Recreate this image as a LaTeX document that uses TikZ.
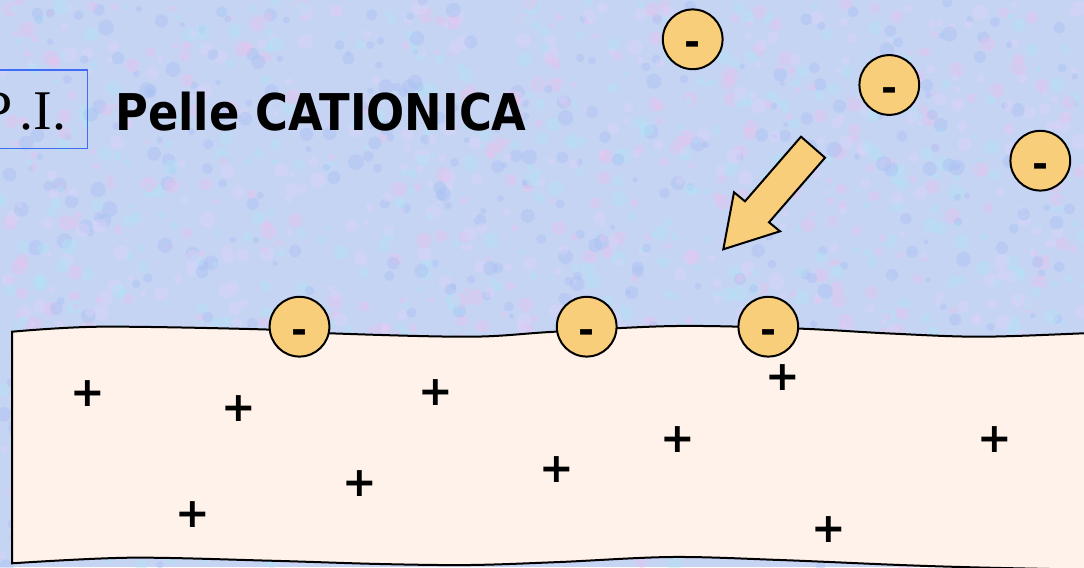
\documentclass[tikz,border=0pt]{standalone}
\usepackage{fontspec}
\newfontfamily\dvsans{DejaVu Sans}
\newfontfamily\piserif{Liberation Serif}
\definecolor{bgbase}{HTML}{C6D4F4}
\definecolor{bgA}{HTML}{E8C2EC}
\definecolor{bgB}{HTML}{B0E4F6}
\definecolor{bgC}{HTML}{A8C0F2}
\definecolor{bgD}{HTML}{DCD2F8}
\definecolor{ionfill}{HTML}{F8CE7A}
\definecolor{skin}{HTML}{FEF2EA}
\definecolor{boxblue}{HTML}{3F6CF5}
\tikzset{
  ion/.style={circle, draw=black, line width=1.5pt, fill=ionfill, minimum size=44.8pt,
    inner sep=0pt, font=\dvsans\bfseries\fontsize{29}{30}\selectfont,
    text height=24.6pt, text depth=0pt},
  pluscharge/.style={inner sep=0pt, font=\dvsans\bfseries\fontsize{31}{32}\selectfont,
    text height=22.3pt, text depth=0pt},
  membrane/.style={draw=black, line width=1.5pt, fill=skin},
  bigarrow/.style={draw=black, line width=1.5pt, fill=ionfill, line join=miter},
}
\begin{document}
\begin{tikzpicture}[x=0.75pt, y=-0.75pt]
\useasboundingbox (0,0) rectangle (1084,567);
\clip (0,0) rectangle (1084,567);
% textured background
\fill[bgbase] (0,0) rectangle (1084,567);
\pgfmathsetseed{12}
\foreach \i in {1,...,2200}{
  \pgfmathsetmacro{\bx}{rnd*1084}
  \pgfmathsetmacro{\by}{rnd*567}
  \pgfmathsetmacro{\br}{2.5+rnd*5.5}
  \pgfmathrandominteger{\bc}{1}{4}
  \ifcase\bc\or
    \fill[bgA, opacity=0.42] (\bx,\by) circle[radius=\br];
  \or
    \fill[bgB, opacity=0.42] (\bx,\by) circle[radius=\br];
  \or
    \fill[bgC, opacity=0.42] (\bx,\by) circle[radius=\br];
  \else
    \fill[bgD, opacity=0.42] (\bx,\by) circle[radius=\br];
  \fi
}
% title box and title
\draw[boxblue, line width=1pt] (-20,70) rectangle (87.3,148.7);
\node[anchor=base west, inner sep=0pt, font=\piserif\fontsize{42}{48}\selectfont] (pi) at (-19,129.5) {P\kern5.25pt.I.};
\node[anchor=base west, inner sep=0pt, font=\dvsans\bfseries\fontsize{38}{44}\selectfont] (title) at (115,130) {\scalebox{0.885}[1]{Pelle CATIONICA}};
% membrane (skin)
\draw[membrane] plot[smooth, tension=0.55] coordinates {(12,331.7) (100,326.7) (260,329.3) (330,333.3) (470,336.7) (555,331.7) (676,326) (797,328.5) (890,333.5) (980,336.7) (1084,333.3) (1110,332)}
  -- (1110,570)
  -- plot[smooth, tension=0.55] coordinates {(1100,570) (980,567.5) (900,565) (780,560) (672,557) (560,562) (470,565) (380,564) (270,560.7) (130,557.7) (12,563.3)}
  -- cycle;
% arrow
\draw[bigarrow] (801,136.7) -- (825,157.7) -- (769,222.3) -- (780,231.3) -- (723.3,249.3) -- (734,192.3) -- (745,201.3) -- cycle;
% anions
\node[ion] (a1) at (692.7,39.3) {-};
\node[ion] (a2) at (889.3,85) {-};
\node[ion] (a3) at (1040.3,160.7) {-};
\node[ion] (m1) at (299.5,326.7) {-};
\node[ion] (m2) at (586.7,326.7) {-};
\node[ion] (m3) at (768.3,326.7) {-};
% cations
\node[pluscharge] (p1) at (87.7,391.7) {+};
\node[pluscharge] (p2) at (239.3,406.7) {+};
\node[pluscharge] (p3) at (435.7,391) {+};
\node[pluscharge] (p4) at (359.5,482) {+};
\node[pluscharge] (p5) at (193.3,512.3) {+};
\node[pluscharge] (p6) at (556.7,467.3) {+};
\node[pluscharge] (p7) at (677.7,437.3) {+};
\node[pluscharge] (p8) at (782.7,376) {+};
\node[pluscharge] (p9) at (995,437.3) {+};
\node[pluscharge] (p10) at (829.3,527.3) {+};
\end{tikzpicture}
\end{document}
